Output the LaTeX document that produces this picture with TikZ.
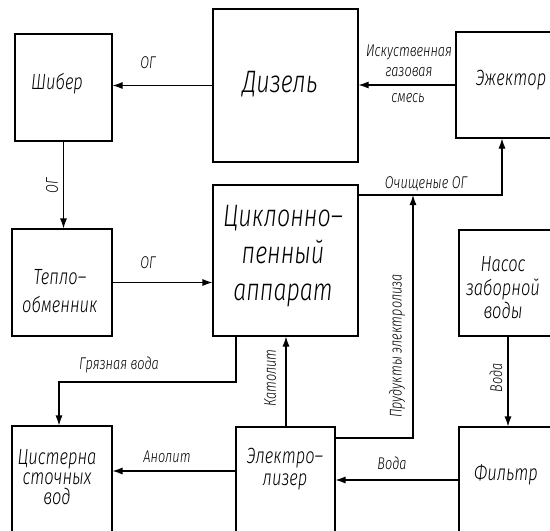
\documentclass[tikz,border=0pt]{standalone}
\usepackage{fontspec}
\setmainfont{Fira Sans Light Italic}[FakeStretch=0.75]
\usetikzlibrary{arrows.meta,calc}
\begin{document}
\begin{tikzpicture}[x=1pt,y=-1pt,
  box/.style={draw, line width=1.1pt, inner sep=0pt},
  conn/.style={line width=1.1pt, -{Latex[length=10pt,width=7pt]}},
  big/.style={font=\fontsize{31}{37}\selectfont, align=center, inner sep=0pt},
  mid/.style={font=\fontsize{22}{22}\selectfont, align=center, inner sep=0pt},
  lbl/.style={font=\fontsize{17}{18}\selectfont, inner sep=0pt}]
\clip (0,0) rectangle (550,531);
\useasboundingbox (0,0) rectangle (550,531);
% boxes
\node[box, minimum width=97pt,  minimum height=107pt] (shiber)  at (63.5,87.5) {};
\node[box, minimum width=145pt, minimum height=153pt] (diesel)  at (285.5,85.5) {};
\node[box, minimum width=114pt, minimum height=106pt] (ejector) at (513,85) {};
\node[box, minimum width=100pt, minimum height=107pt] (heat)    at (62,282.5) {};
\node[box, minimum width=145pt, minimum height=151pt] (cyclone) at (285.5,260.5) {};
\node[box, minimum width=111pt, minimum height=106pt] (pump)    at (514.5,283) {};
\node[box, minimum width=100pt, minimum height=134pt] (cistern) at (62,493) {};
\node[box, minimum width=99pt,  minimum height=133pt] (electro) at (285.5,493.5) {};
\node[box, minimum width=111pt, minimum height=133pt] (filter)  at (514.5,493.5) {};
% box texts
\node[mid] (tshiber) at (57,84) {Шибер};
\node[big] (tdiesel) at (280,84) {Дизель};
\node[mid] (tejector) at (511,80) {Эжектор};
\node[mid, font=\fontsize{22}{28}\selectfont] (theat) at (60,291) {Тепло–\\обменник};
\node[big] (tcyclone) at (283,256) {Циклонно–\\пенный\\аппарат};
\node[mid, font=\fontsize{22}{23.5}\selectfont] (tpump) at (503,288) {Насос\\заборной\\воды};
\node[mid, font=\fontsize{22}{20}\selectfont] (tcistern) at (57,477) {Цистерна\\сточных\\вод};
\node[mid] (telectro) at (285,469) {Электро–\\лизер};
\node[mid] (tfilter) at (506,475) {Фильтр};
% junction coordinates
\coordinate (og) at (502,195);
\coordinate (pr) at (413,438);
\coordinate (kt) at (286,427);
\coordinate (dw1) at (236,382);
\coordinate (dw2) at (59,382);
\coordinate (an) at (0,471);
\coordinate (vd) at (0,480);
\coordinate (pf) at (508,0);
% connectors
\draw[conn] (diesel.west) -- (diesel.west -| shiber.east);
\draw[conn] (ejector.west) -- (ejector.west -| diesel.east);
\draw[conn] (shiber.south) -- (shiber.south |- heat.north);
\draw[conn] (heat.east) -- (heat.east -| cyclone.west);
\draw[conn] (cyclone.east |- og) -- (og) -- (og |- ejector.south);
\draw[conn] (electro.east |- pr) -- (pr) -- (pr |- og);
\draw[conn] (kt) -- (kt |- cyclone.south);
\draw[conn] (cyclone.south -| dw1) -- (dw1) -- (dw2) -- (dw2 |- cistern.north);
\draw[conn] (electro.west |- an) -- (cistern.east |- an);
\draw[conn] (filter.west |- vd) -- (electro.east |- vd);
\draw[conn] (pump.south -| pf) -- (filter.north -| pf);
% labels
\node[lbl] (l1) at (148,63) {ОГ};
\node[lbl, rotate=90] (l2) at (52,186) {ОГ};
\node[lbl] (l3) at (148,263) {ОГ};
\node[lbl] (l4a) at (409,52) {Искуственная};
\node[lbl] (l4b) at (409,72) {газовая};
\node[lbl] (l4c) at (408,98) {смесь};
\node[lbl] (l5) at (426,184) {Очищеные ОГ};
\node[lbl, rotate=90] (l6) at (397,346) {Прудукты электролиза};
\node[lbl, rotate=90] (l7) at (270,378) {Католит};
\node[lbl] (l8) at (119,365) {Грязная вода};
\node[lbl] (l9) at (167,457) {Анолит};
\node[lbl] (l10) at (392,463) {Вода};
\node[lbl, rotate=90] (l11) at (496,378) {Вода};
\end{tikzpicture}
\end{document}
